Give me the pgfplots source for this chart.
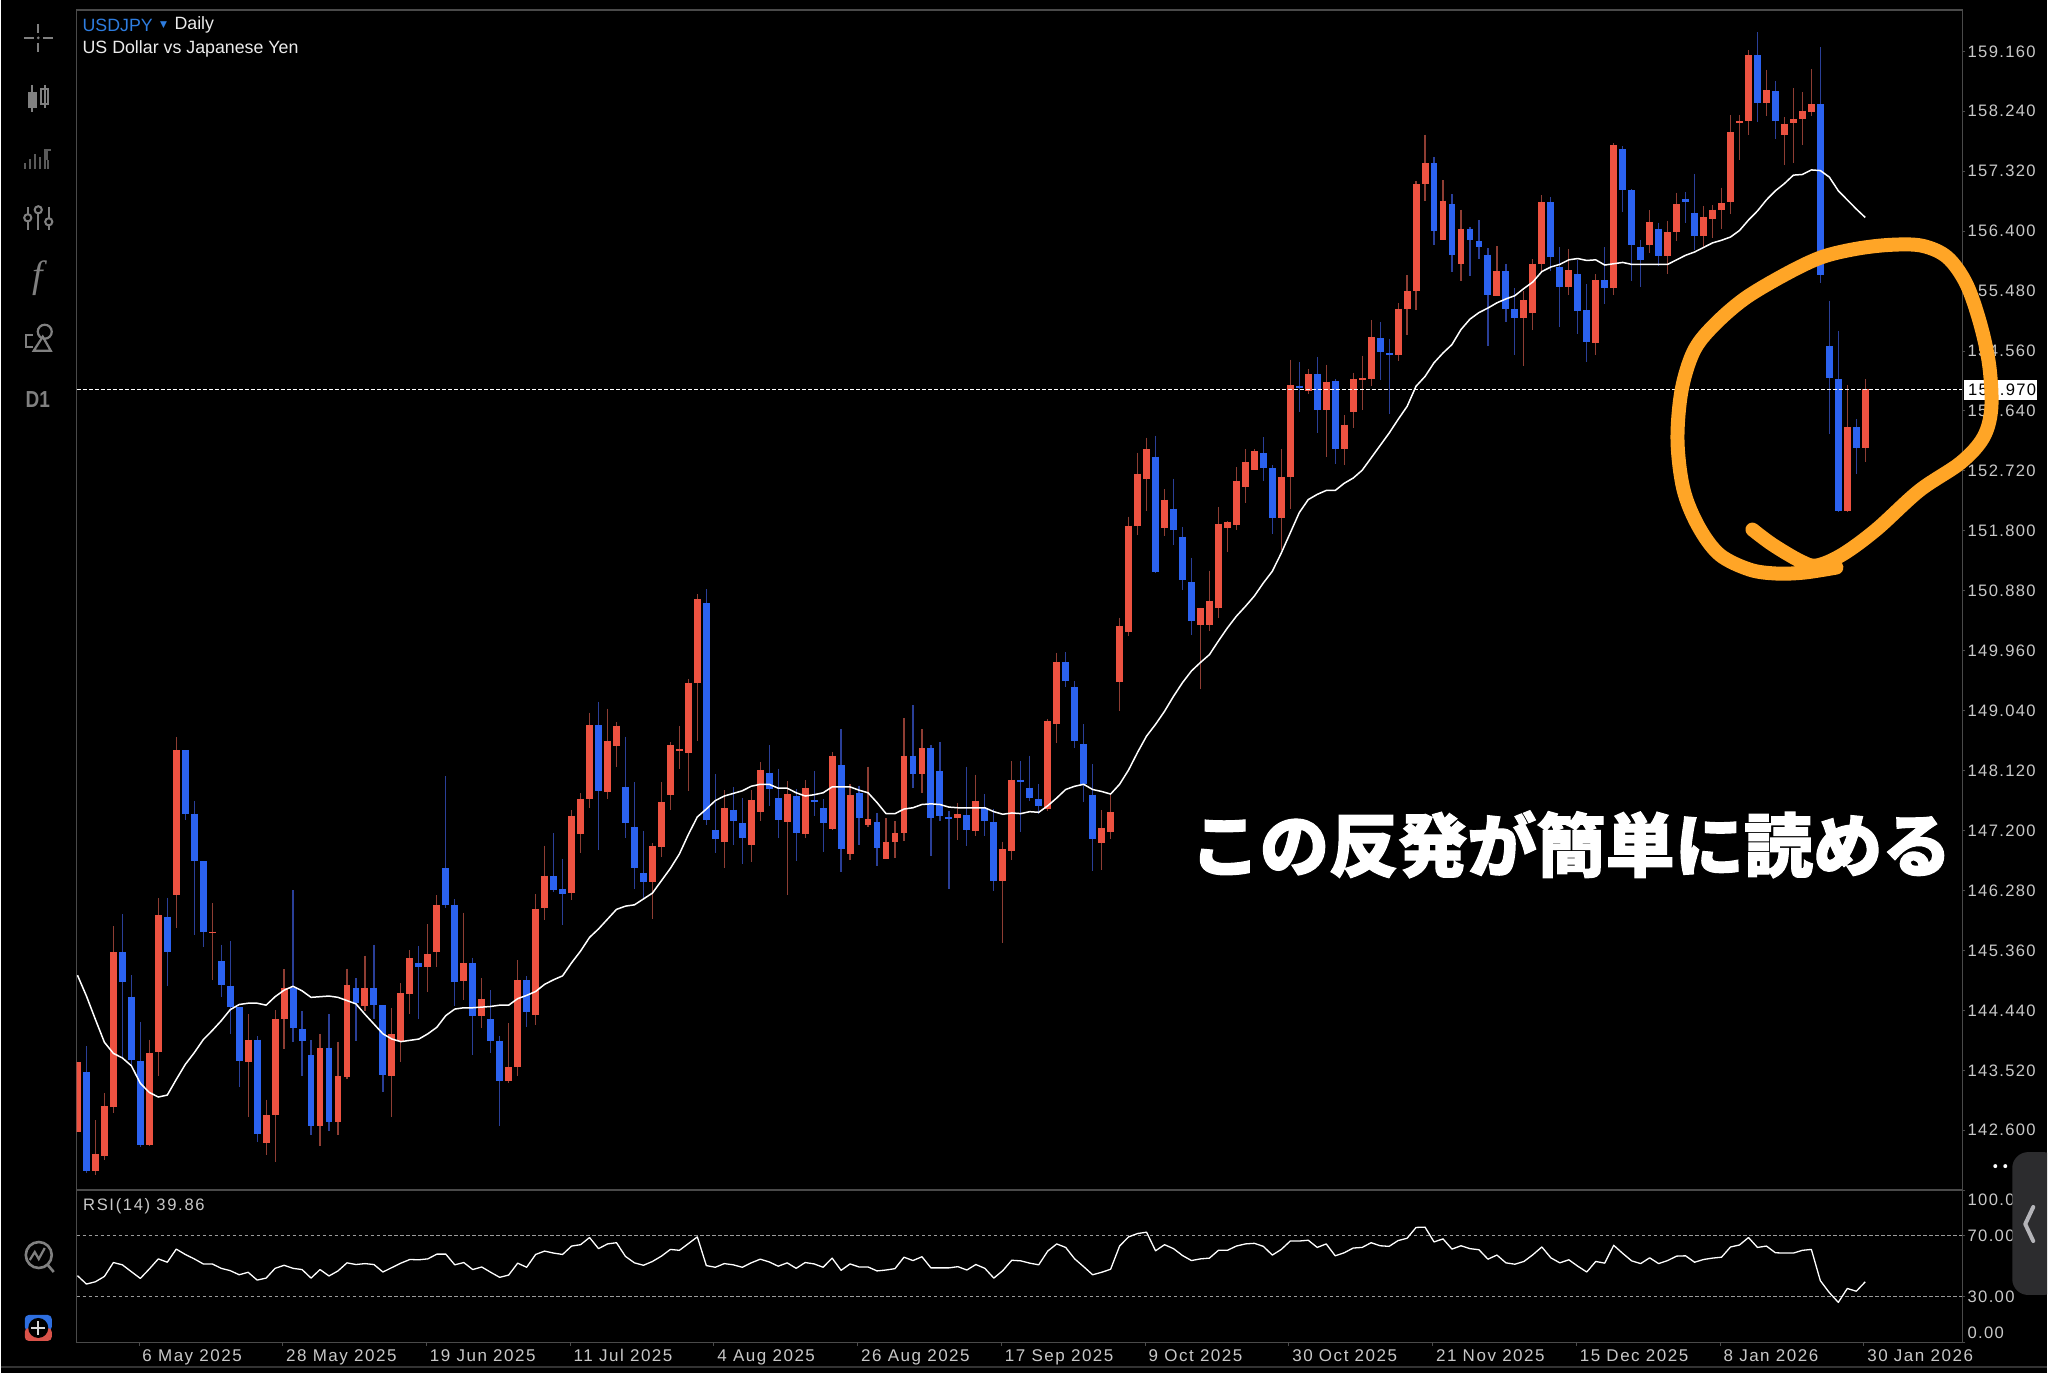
\documentclass[border=0pt]{standalone}
\usepackage{fontspec}
\usepackage{pgfplots}
\usepackage{pgfplotstable}
\pgfplotsset{compat=1.18}
\setmainfont{Liberation Sans}
\newfontfamily\tickf[LetterSpace=8]{Liberation Sans}
\newfontfamily\datef[LetterSpace=9]{Liberation Sans}
\newfontfamily\rsif[LetterSpace=10]{Liberation Sans}
\newfontfamily\cjk[BoldFeatures={FakeBold=1.6}]{Noto Sans CJK JP}
\newfontfamily\dejavu{DejaVu Sans}
\newfontfamily\serif{Liberation Serif}
\definecolor{cRed}{HTML}{EC5241}
\definecolor{cBlue}{HTML}{2B62F0}
\definecolor{wRed}{HTML}{8E3D33}
\definecolor{wBlue}{HTML}{2A3F98}
\definecolor{gridgray}{HTML}{4A4A4A}
\definecolor{lab}{HTML}{C8C8C8}
\definecolor{dashg}{HTML}{9A9A9A}
\definecolor{icon}{HTML}{808080}
\definecolor{orangeloop}{HTML}{FFA526}
\definecolor{usd}{HTML}{2E7DE0}
\definecolor{c33}{HTML}{333333}
\definecolor{c5a}{HTML}{5A5A5A}
\definecolor{boxblue}{HTML}{2E6FE0}
\definecolor{boxred}{HTML}{D9534A}
\definecolor{tabgray}{HTML}{2C2C2E}
\definecolor{tabchev}{HTML}{B4B4B8}
\pgfplotstableread{
k h t b l
0 143.64 143.64 142.58 142.58
2 142.75 142.23 141.97 141.92
3 143.17 142.97 142.21 142.15
4 145.73 145.33 142.96 142.87
8 143.99 143.79 142.37 142.36
9 146.16 145.90 143.80 143.43
11 148.63 148.44 146.21 145.70
15 146.09 145.65 145.62 144.91
19 144.38 143.99 143.65 142.80
21 143.07 142.83 142.41 142.22
22 144.44 144.31 142.84 142.11
23 145.07 144.78 144.30 143.84
27 144.08 143.86 142.66 142.36
29 143.96 143.44 142.73 142.53
30 145.08 144.83 143.42 143.39
32 145.28 144.79 144.50 144.43
35 144.47 144.07 143.44 142.80
36 144.86 144.70 143.97 143.65
37 145.37 145.24 144.69 144.38
39 145.76 145.31 145.11 144.72
40 146.21 146.06 145.34 145.11
43 145.94 145.17 144.89 144.60
45 144.94 144.62 144.35 144.17
48 144.24 143.57 143.36 143.32
49 145.21 144.91 143.57 143.44
51 146.23 146.00 144.37 144.22
52 146.97 146.51 146.01 145.83
55 147.51 147.43 146.24 146.14
56 147.77 147.69 147.14 146.85
57 149.01 148.82 147.68 147.55
59 149.07 148.58 147.79 147.69
60 148.87 148.81 148.50 148.18
64 147.01 146.97 146.41 145.85
65 147.94 147.64 146.94 146.79
66 148.56 148.52 147.74 147.52
67 148.80 148.45 148.42 148.14
68 149.52 149.47 148.39 147.80
69 150.83 150.75 149.47 148.57
72 147.82 147.55 147.03 146.62
75 147.82 147.67 146.98 146.71
76 148.25 148.13 147.49 147.35
79 147.96 147.76 147.33 146.21
81 147.97 147.85 147.14 147.08
84 148.40 148.35 147.22 147.21
86 147.91 147.75 146.84 146.75
88 148.18 147.37 147.28 147.25
90 147.39 147.03 146.77 146.76
91 147.35 147.16 147.03 146.78
92 148.93 148.35 147.17 147.04
94 148.76 148.47 148.07 147.78
98 147.63 147.45 147.39 147.06
100 148.06 147.66 147.20 147.12
103 147.03 146.92 146.43 145.48
104 148.26 147.98 146.88 146.75
108 148.91 148.88 147.53 147.50
109 149.93 149.79 148.83 148.55
114 147.51 147.24 147.01 146.60
115 147.78 147.48 147.18 147.07
116 150.47 150.34 149.48 149.03
117 152.02 151.88 150.24 150.19
118 153.00 152.68 151.88 151.73
119 153.23 153.06 152.60 152.10
121 152.44 152.28 151.85 151.72
125 150.62 150.61 150.35 149.38
126 151.19 150.73 150.36 150.27
127 152.17 151.91 150.61 150.47
128 151.95 151.94 151.85 151.48
129 152.78 152.57 151.89 151.81
130 153.05 152.86 152.48 152.22
131 153.05 153.02 152.74 152.74
134 153.05 152.63 151.99 151.51
135 154.43 154.04 152.63 152.14
137 154.28 154.20 153.95 153.90
139 154.35 154.09 153.65 152.94
141 153.58 153.43 153.05 152.81
142 154.23 154.13 153.63 153.38
143 154.49 154.15 154.12 153.66
144 155.04 154.77 154.13 154.03
147 155.30 155.21 154.50 154.41
148 155.72 155.48 155.21 154.81
149 157.17 157.12 155.48 155.19
150 157.88 157.44 157.13 156.87
152 157.18 156.87 156.27 156.27
154 156.73 156.44 155.90 155.64
158 156.17 155.79 155.41 155.40
161 155.48 155.34 155.06 154.33
162 155.97 155.90 155.15 154.89
163 156.95 156.84 155.90 155.76
166 156.12 155.80 155.54 155.42
169 155.74 155.65 154.68 154.50
171 157.75 157.72 155.52 155.42
175 156.72 156.54 156.19 156.07
177 156.56 156.38 156.02 155.74
178 156.99 156.81 156.38 156.25
181 156.79 156.61 156.33 156.16
182 156.80 156.73 156.58 156.30
183 157.07 156.83 156.73 156.44
184 158.18 157.92 156.84 156.66
185 158.19 158.09 158.06 157.49
186 159.18 159.10 158.09 157.88
188 158.88 158.57 158.37 158.17
190 158.15 158.05 157.88 157.41
191 158.60 158.12 158.06 157.45
192 158.53 158.25 158.12 157.72
193 158.89 158.35 158.23 158.17
197 154.04 153.39 152.10 152.09
199 154.13 153.97 153.07 152.85
}\upT
\pgfplotstableread{
k h t b l
1 143.89 143.50 141.97 141.95
5 145.92 145.33 144.88 143.72
6 144.98 144.65 143.68 143.59
7 144.26 143.67 142.37 142.35
10 146.17 145.88 145.34 144.82
12 148.44 148.44 147.46 147.36
13 147.65 147.46 146.74 145.60
14 146.73 146.73 145.65 145.41
16 145.45 145.20 144.83 144.65
17 145.50 144.82 144.49 144.08
18 144.49 144.49 143.67 143.27
20 144.05 143.99 142.55 142.42
24 146.28 144.79 144.17 143.95
25 144.43 144.16 143.97 143.44
26 143.98 143.75 142.66 142.53
28 144.38 143.87 142.73 142.59
31 144.93 144.79 144.55 143.97
33 145.45 144.79 144.52 144.31
34 144.52 144.52 143.45 143.18
38 145.43 145.16 145.11 144.31
41 148.03 146.62 146.06 146.01
42 146.15 146.06 144.88 144.51
44 145.25 145.17 144.36 143.76
46 144.75 144.30 143.97 143.78
47 144.05 143.97 143.36 142.67
50 144.96 144.91 144.42 144.18
53 147.16 146.50 146.29 146.25
54 146.77 146.31 146.22 145.75
58 149.18 148.82 147.80 146.90
61 148.64 147.87 147.32 147.08
62 147.94 147.25 146.62 146.30
63 147.20 146.55 146.41 146.17
70 150.91 150.69 147.36 147.29
71 148.07 147.21 147.07 146.86
73 147.87 147.52 147.34 146.98
74 147.70 147.31 147.08 146.68
77 148.51 148.09 147.84 147.57
78 148.15 147.70 147.36 147.08
80 147.84 147.73 147.16 146.73
82 148.11 147.67 147.64 147.43
83 147.68 147.54 147.32 146.87
85 148.76 148.21 146.92 146.57
87 147.89 147.77 147.40 146.98
89 147.47 147.33 146.93 146.66
93 149.13 148.35 148.07 147.86
95 148.51 148.46 147.40 146.81
96 148.56 148.11 147.42 147.34
97 147.50 147.41 147.38 146.30
99 148.18 147.44 147.21 146.97
101 147.76 147.54 147.35 147.12
102 147.53 147.33 146.43 146.27
105 148.27 147.98 147.95 147.18
106 148.35 147.86 147.70 147.65
107 147.91 147.68 147.57 147.46
110 149.94 149.79 149.50 149.41
111 149.49 149.40 148.58 148.47
112 148.83 148.53 147.91 147.64
113 148.22 147.75 147.07 146.58
120 153.26 152.94 151.17 151.16
122 152.60 152.14 151.82 151.59
123 151.86 151.71 151.04 150.89
124 151.39 151.01 150.41 150.20
132 153.24 152.99 152.76 152.56
133 152.81 152.76 152.00 151.75
136 154.39 154.03 154.00 153.63
138 154.47 154.20 153.65 153.30
140 154.13 154.10 153.05 152.82
145 155.00 154.76 154.54 154.12
146 154.75 154.53 154.50 153.60
151 157.54 157.44 156.40 156.19
153 156.97 156.82 156.03 155.78
155 156.46 156.44 156.26 155.71
156 156.57 156.25 156.16 155.97
157 156.14 156.04 155.42 154.64
159 155.90 155.79 155.20 155.01
160 155.53 155.20 155.06 154.50
164 156.92 156.84 156.00 155.79
165 156.16 155.85 155.55 154.93
167 155.96 155.74 155.18 154.82
168 155.59 155.19 154.70 154.39
170 156.15 155.65 155.53 155.28
172 157.70 157.66 157.03 156.70
173 157.04 157.03 156.19 155.64
174 156.27 156.15 155.96 155.54
176 156.53 156.44 156.02 155.86
179 157.00 156.90 156.85 156.53
180 157.28 156.68 156.33 156.11
187 159.45 159.10 158.37 158.08
189 158.70 158.55 158.09 157.81
194 159.22 158.35 155.72 155.60
195 155.33 154.64 154.14 153.29
196 154.87 154.13 152.10 152.09
198 153.52 153.39 153.07 152.67
}\downT
\pgfplotsset{
 wick/.style 2 args={draw=none,mark=none,forget plot,error bars/.cd,y dir=minus,y explicit,error mark=none,
   error bar style={draw=#1,line width=#2}},
}
\begin{document}
\begin{tikzpicture}
\fill[black] (0,0) rectangle (1024pt,687pt);
\begin{axis}[
 name=main, anchor=south west, at={(38pt,91.5pt)}, scale only axis,
 width=943.5pt, height=590.5pt,
 xmin=-0.08, xmax=209.8, ymin=141.682, ymax=159.795,
 axis line style={draw=gridgray,line width=0.6pt},
 xtick=\empty,
 ytick={142.6,143.52,144.44,145.36,146.28,147.2,148.12,149.04,149.96,150.88,151.8,152.72,153.64,154.56,155.48,156.4,157.32,158.24,159.16},
 yticklabels={142.600,143.520,144.440,145.360,146.280,147.200,148.120,149.040,149.960,150.880,151.800,152.720,153.640,154.560,155.480,156.400,157.320,158.240,159.160},
 ytick pos=right, yticklabel pos=right, tick align=outside,
 major tick length=1.5pt, tick style={draw=gridgray,line width=0.5pt},
 y tick label style={font=\tickf\fontsize{8.3}{9}\selectfont,text=lab,anchor=west,inner sep=0pt,xshift=1pt},
]
\addplot[wick={wRed}{0.6pt}] table[x=k,y=h,y error minus expr=\thisrow{h}-\thisrow{l}]{\upT};
\addplot[wick={wBlue}{0.6pt}] table[x=k,y=h,y error minus expr=\thisrow{h}-\thisrow{l}]{\downT};
\addplot[wick={cRed}{3.45pt}] table[x=k,y=t,y error minus expr=\thisrow{t}-\thisrow{b}]{\upT};
\addplot[wick={cBlue}{3.45pt}] table[x=k,y=t,y error minus expr=\thisrow{t}-\thisrow{b}]{\downT};
\addplot[white,line width=0.75pt,no marks,line join=round] coordinates {
(0,144.98)(1,144.66)(2,144.30)(3,143.95)(4,143.78)(5,143.71)(6,143.59)(7,143.32)(8,143.18)(9,143.11)
(10,143.14)(11,143.38)(12,143.61)(13,143.79)(14,143.99)(15,144.13)(16,144.28)(17,144.45)(18,144.53)(19,144.55)
(20,144.55)(21,144.52)(22,144.65)(23,144.75)(24,144.81)(25,144.74)(26,144.64)(27,144.65)(28,144.66)(29,144.64)
(30,144.59)(31,144.54)(32,144.38)(33,144.23)(34,144.08)(35,144.00)(36,143.96)(37,143.98)(38,144.00)(39,144.08)
(40,144.18)(41,144.36)(42,144.46)(43,144.48)(44,144.48)(45,144.49)(46,144.50)(47,144.52)(48,144.52)(49,144.62)
(50,144.67)(51,144.73)(52,144.84)(53,144.91)(54,144.97)(55,145.17)(56,145.35)(57,145.56)(58,145.69)(59,145.84)
(60,145.99)(61,146.04)(62,146.06)(63,146.15)(64,146.24)(65,146.43)(66,146.62)(67,146.84)(68,147.14)(69,147.41)
(70,147.53)(71,147.66)(72,147.73)(73,147.77)(74,147.81)(75,147.88)(76,147.91)(77,147.91)(78,147.85)(79,147.85)
(80,147.78)(81,147.73)(82,147.75)(83,147.78)(84,147.87)(85,147.87)(86,147.87)(87,147.82)(88,147.78)(89,147.63)
(90,147.46)(91,147.46)(92,147.53)(93,147.55)(94,147.60)(95,147.61)(96,147.60)(97,147.56)(98,147.55)(99,147.55)
(100,147.55)(101,147.55)(102,147.49)(103,147.45)(104,147.47)(105,147.46)(106,147.49)(107,147.48)(108,147.58)(109,147.70)
(110,147.83)(111,147.88)(112,147.91)(113,147.83)(114,147.80)(115,147.76)(116,147.91)(117,148.13)(118,148.40)(119,148.65)
(120,148.83)(121,149.03)(122,149.26)(123,149.47)(124,149.65)(125,149.78)(126,149.90)(127,150.11)(128,150.31)(129,150.49)
(130,150.64)(131,150.80)(132,151.00)(133,151.18)(134,151.46)(135,151.77)(136,152.08)(137,152.28)(138,152.36)(139,152.42)
(140,152.42)(141,152.53)(142,152.61)(143,152.73)(144,152.92)(145,153.11)(146,153.30)(147,153.51)(148,153.71)(149,154.02)
(150,154.17)(151,154.38)(152,154.53)(153,154.66)(154,154.89)(155,155.05)(156,155.15)(157,155.22)(158,155.30)(159,155.36)
(160,155.41)(161,155.52)(162,155.62)(163,155.78)(164,155.85)(165,155.89)(166,155.96)(167,155.98)(168,155.95)(169,155.96)
(170,155.88)(171,155.90)(172,155.92)(173,155.89)(174,155.89)(175,155.89)(176,155.89)(177,155.89)(178,155.96)(179,156.03)
(180,156.08)(181,156.15)(182,156.22)(183,156.26)(184,156.31)(185,156.41)(186,156.57)(187,156.71)(188,156.88)(189,157.02)
(190,157.13)(191,157.26)(192,157.27)(193,157.34)(194,157.33)(195,157.23)(196,157.02)(197,156.88)(198,156.74)(199,156.61)
};
\addplot[white,line width=0.65pt,dash pattern=on 2pt off 1pt,no marks] coordinates {(-0.08,153.97)(209.8,153.97)};
\end{axis}
\begin{axis}[
 name=rsi, anchor=south west, at={(38pt,15.15pt)}, scale only axis,
 width=943.5pt, height=76.35pt,
 xmin=-0.08, xmax=209.8, ymin=0, ymax=100,
 axis line style={draw=gridgray,line width=0.6pt},
 xtick={6.85,22.85,38.85,54.85,70.85,86.85,102.85,118.85,134.85,150.85,166.85,182.85,198.85},
 xticklabels={6 May 2025,28 May 2025,19 Jun 2025,11 Jul 2025,4 Aug 2025,26 Aug 2025,17 Sep 2025,9 Oct 2025,30 Oct 2025,21 Nov 2025,15 Dec 2025,8 Jan 2026,30 Jan 2026},
 xtick pos=bottom, xticklabel pos=bottom,
 x tick label style={font=\datef\fontsize{8.5}{9}\selectfont,text=lab,anchor=north west,inner sep=0pt,xshift=1.5pt,yshift=-1.7pt},
 ytick={0,30,70,100}, yticklabels={,30.00,70.00,},
 extra y ticks={6.4,93.8}, extra y tick labels={0.00,100.00},
 extra y tick style={major tick style={draw=none}},
 ytick pos=right, yticklabel pos=right, tick align=outside,
 major tick length=1.5pt, tick style={draw=gridgray,line width=0.5pt},
 y tick label style={font=\tickf\fontsize{8.3}{9}\selectfont,text=lab,anchor=west,inner sep=0pt,xshift=1pt},
]
\addplot[dashg,line width=0.45pt,dash pattern=on 1.7pt off 1.3pt,no marks] coordinates {(-0.08,70)(209.8,70)};
\addplot[dashg,line width=0.45pt,dash pattern=on 1.7pt off 1.3pt,no marks] coordinates {(-0.08,30)(209.8,30)};
\addplot[white,line width=0.65pt,no marks,line join=round] coordinates {
(0,43.9)(1,38.4)(2,39.9)(3,43.4)(4,52.5)(5,51.0)(6,46.5)(7,42.1)(8,48.3)(9,54.9)
(10,52.7)(11,61.3)(12,57.8)(13,54.9)(14,51.6)(15,51.6)(16,48.7)(17,47.2)(18,44.5)(19,46.1)
(20,41.0)(21,42.3)(22,48.7)(23,50.7)(24,48.7)(25,47.9)(26,42.3)(27,47.9)(28,43.7)(29,47.0)
(30,52.3)(31,51.2)(32,51.8)(33,51.2)(34,46.3)(35,49.2)(36,52.1)(37,54.5)(38,54.3)(39,54.9)
(40,58.0)(41,58.0)(42,51.0)(43,52.5)(44,47.9)(45,49.6)(46,46.1)(47,42.8)(48,44.3)(49,52.1)
(50,49.4)(51,57.8)(52,60.0)(53,58.7)(54,57.8)(55,63.3)(56,64.2)(57,68.9)(58,61.6)(59,64.7)
(60,65.5)(61,56.5)(62,52.3)(63,50.7)(64,53.2)(65,56.7)(66,61.1)(67,60.5)(68,64.9)(69,69.3)
(70,50.5)(71,49.4)(72,51.8)(73,51.0)(74,49.4)(75,52.3)(76,54.7)(77,52.9)(78,50.1)(79,52.3)
(80,48.7)(81,52.5)(82,51.6)(83,49.4)(84,55.4)(85,47.4)(86,51.6)(87,49.6)(88,49.6)(89,47.0)
(90,47.6)(91,48.5)(92,56.0)(93,53.8)(94,56.3)(95,49.0)(96,49.0)(97,49.0)(98,49.8)(99,47.6)
(100,51.2)(101,48.7)(102,42.3)(103,47.2)(104,54.0)(105,53.6)(106,52.1)(107,51.0)(108,60.0)(109,64.7)
(110,62.4)(111,54.9)(112,49.8)(113,44.5)(114,46.1)(115,48.1)(116,63.3)(117,69.3)(118,71.5)(119,72.4)
(120,60.2)(121,64.2)(122,61.6)(123,57.1)(124,53.8)(125,54.9)(126,55.4)(127,60.5)(128,60.5)(129,63.3)
(130,64.7)(131,65.1)(132,63.1)(133,57.4)(134,61.1)(135,66.6)(136,66.6)(137,67.1)(138,62.4)(139,64.7)
(140,56.9)(141,58.9)(142,62.0)(143,62.4)(144,65.5)(145,63.5)(146,63.1)(147,66.9)(148,68.4)(149,75.5)
(150,75.7)(151,66.0)(152,68.0)(153,61.3)(154,63.5)(155,61.6)(156,60.9)(157,54.7)(158,57.4)(159,52.3)
(160,51.4)(161,53.2)(162,57.6)(163,62.7)(164,55.6)(165,52.3)(166,54.3)(167,50.1)(168,46.3)(169,53.2)
(170,52.1)(171,63.8)(172,58.5)(173,53.6)(174,51.8)(175,55.6)(176,51.8)(177,53.8)(178,56.7)(179,56.9)
(180,52.7)(181,54.5)(182,55.4)(183,56.0)(184,62.7)(185,64.0)(186,68.9)(187,62.4)(188,63.3)(189,58.9)
(190,58.7)(191,58.7)(192,60.5)(193,61.1)(194,40.6)(195,32.8)(196,26.4)(197,35.5)(198,33.7)(199,39.86)
};
\end{axis}
% interface and hand-drawn annotation, in pixel coordinates of the screenshot
\begin{scope}[x=0.5pt,y=-0.5pt,yshift=687pt]
\draw[gridgray,line width=0.8pt] (76,1191)--(1963,1191);
\draw[c33,line width=0.8pt] (0,1368)--(2048,1368);
\node[anchor=west,inner sep=0pt,text=usd,font=\fontsize{8.9}{10}\selectfont] at (81.5,25) {USDJPY};
\node[anchor=center,inner sep=0pt,text=usd,font=\dejavu\fontsize{4.5}{5}\selectfont] at (163,25.5) {▼};
\node[anchor=west,inner sep=0pt,text=white!92!black,font=\fontsize{8.9}{10}\selectfont] at (173.5,25) {Daily};
\node[anchor=west,inner sep=0pt,text=white!92!black,font=\fontsize{8.9}{10}\selectfont] at (81.5,48.5) {US Dollar vs Japanese Yen};
\node[anchor=west,inner sep=0pt,text=lab,font=\rsif\fontsize{8.3}{9}\selectfont] at (82,1207) {RSI(14) 39.86};
\node[inner sep=0pt,text=white,font=\cjk\bfseries\fontsize{34.6}{35}\selectfont] at (1571.5,845) {この反発が簡単に読める};
% crosshair
\draw[icon,line width=1.2pt] (23,38)--(33,38) (42,38)--(52,38) (37.5,24)--(37.5,33) (37.5,43)--(37.5,52);
\fill[icon] (37.5,38) circle (1.5);
% candles
\draw[icon,line width=0.9pt] (31.5,85)--(31.5,112) (44,85)--(44,108);
\fill[icon] (27,92) rectangle (36,108);
\draw[icon,fill=black,line width=1.2pt] (40.5,89) rectangle (47.5,104);
\draw[icon,line width=1pt] (44,89)--(44,104);
% bars
\foreach \xx/\yy in {24/163,29/159,34/154,39/157,44/150,47.5/160}{\draw[c5a,line width=1.1pt] (\xx,169)--(\xx,\yy);}
\draw[c5a,line width=1.1pt] (43,150)--(50,150) (46.5,150)--(46.5,160);
% sliders
\draw[icon,line width=1.1pt] (27,207)--(27,230) (37.5,207)--(37.5,230) (48,207)--(48,230);
\draw[icon,fill=black,line width=1pt] (27,218) circle (3.6) (37.5,210) circle (3.6) (48,222) circle (3.6);
% f
\node[inner sep=0pt,text=icon,font=\serif\itshape\fontsize{19}{20}\selectfont] at (37,278) {f};
% shapes
\draw[icon,line width=1.1pt] (32,335)--(25,335)--(25,347)--(32,347);
\draw[icon,line width=1.1pt] (44,332) circle (7);
\draw[icon,fill=black,line width=1.1pt] (42,337)--(33,351)--(50,351)--cycle;
% D1
\node[inner sep=0pt,text=icon,font=\bfseries\fontsize{11.6}{12}\selectfont,xscale=0.82] at (37,400) {D1};
% RSI icon
\draw[icon,line width=1.3pt] (38,1256) circle (13);
\draw[icon,line width=1.3pt] (47,1266)--(53,1273);
\draw[icon,line width=1.1pt] (29,1261)--(34,1253)--(38,1260)--(44,1249);
% plus box
\fill[boxblue,rounded corners=2pt] (24,1316) rectangle (51,1332);
\fill[boxred,rounded corners=2pt] (24,1329) rectangle (51,1342);
\fill[black] (37.5,1329) circle (10);
\draw[white!85!black,line width=1.2pt] (37.5,1322)--(37.5,1336) (30.5,1329)--(44.5,1329);
% side tab
\fill[white] (1996,1167) circle (2) (2006,1167) circle (2);
\begin{scope}
\clip (0,0) rectangle (2048,1374);
\fill[tabgray,rounded corners=8pt] (2013,1153) rectangle (2060,1296);
\end{scope}
\draw[tabchev,line width=2pt,line cap=round,line join=round] (2034,1208)--(2026,1225)--(2034,1242);
% current price
\fill[white] (1965,380) rectangle (2038,400);
\node[anchor=west,inner sep=0pt,text=black,font=\tickf\fontsize{8.3}{9}\selectfont] at (1968.5,390) {153.970};
% hand loop
\draw[orangeloop,line width=7pt,line cap=round,line join=round] plot[smooth,tension=0.55] coordinates {
(1837,568)(1805,573)(1777,574)(1750,570)(1720,555)(1699,527)(1684,490)(1678,441)(1682,391)(1694,352)(1713,327)(1745,299)(1787,274)(1822,257.5)(1857,249)(1892,245)(1923,246)(1948,257.5)(1967,284)(1981,324)(1990,366)(1992,409)(1984,438)(1961.5,463)(1920,491)(1877,530)(1843,555)(1817,566)(1800,561)(1773,545)(1753,530)};
\end{scope}
\end{tikzpicture}
\end{document}
